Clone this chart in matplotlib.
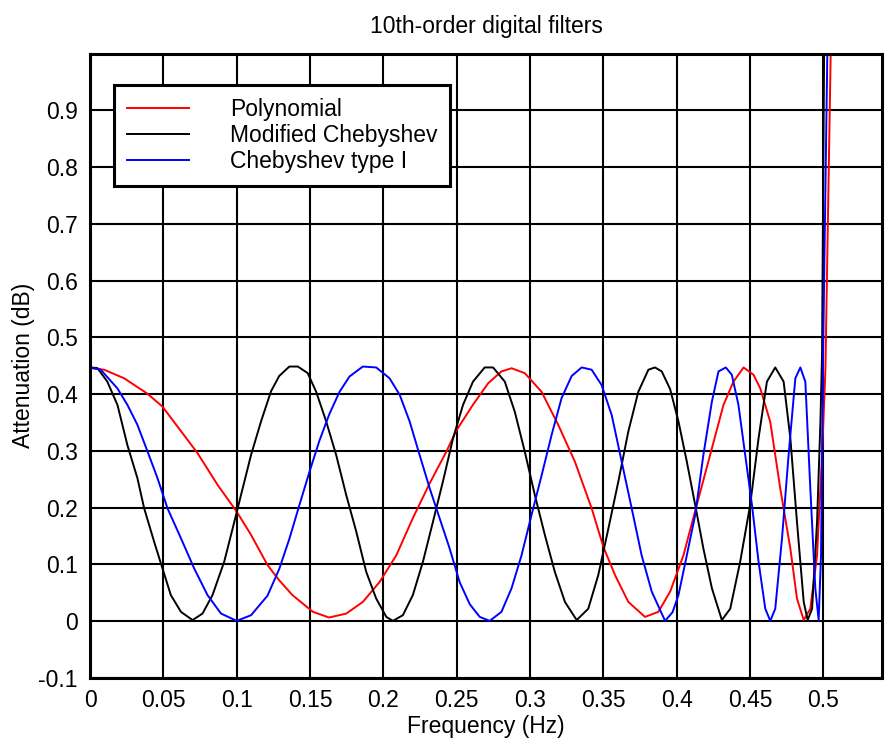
import matplotlib
matplotlib.use("Agg")
import matplotlib.pyplot as plt

plt.rcParams['font.family'] = ['Liberation Sans', 'DejaVu Sans']

# Polynomial (red) - frequency (Hz) / attenuation (dB)
poly_f = [0.0, 0.0096, 0.0232, 0.039, 0.0494, 0.064, 0.0733, 0.087, 0.1, 0.1098,
          0.121, 0.129, 0.138, 0.152, 0.163, 0.1747, 0.186, 0.1974, 0.2088, 0.220,
          0.2316, 0.243, 0.2498, 0.261, 0.2714, 0.2805, 0.2874, 0.2964, 0.3079, 0.3192,
          0.3306, 0.342, 0.35, 0.358, 0.367, 0.3784, 0.3875, 0.3955, 0.4046, 0.4137,
          0.4228, 0.4319, 0.4387, 0.4456, 0.4524, 0.457, 0.4638, 0.4706, 0.4775, 0.482,
          0.4866, 0.4911, 0.4957, 0.4991, 0.5014, 0.505]
poly_db = [0.446, 0.443, 0.428, 0.401, 0.378, 0.328, 0.296, 0.240, 0.193, 0.152,
           0.099, 0.072, 0.046, 0.0165, 0.0065, 0.0135, 0.034, 0.069, 0.116, 0.181,
           0.243, 0.299, 0.336, 0.381, 0.419, 0.440, 0.4456, 0.437, 0.404, 0.346,
           0.281, 0.199, 0.131, 0.081, 0.034, 0.0076, 0.0165, 0.052, 0.116, 0.205,
           0.293, 0.381, 0.422, 0.447, 0.434, 0.41, 0.351, 0.234, 0.128, 0.040,
           0.002, 0.022, 0.116, 0.293, 0.443, 1.0]

# Modified Chebyshev (black)
mcheb_f = [0.0, 0.005, 0.0118, 0.0187, 0.0255, 0.0323, 0.0369, 0.0437, 0.0494, 0.0551,
           0.062, 0.0699, 0.0767, 0.0835, 0.0915, 0.0972, 0.1029, 0.1098, 0.1166, 0.1234,
           0.129, 0.1359, 0.1417, 0.1484, 0.1542, 0.161, 0.1678, 0.1747, 0.1815, 0.1883,
           0.1951, 0.202, 0.2065, 0.2133, 0.2201, 0.227, 0.2338, 0.2406, 0.2475, 0.2543,
           0.2611, 0.2691, 0.2748, 0.2828, 0.2896, 0.2964, 0.3033, 0.3101, 0.3169, 0.3238,
           0.3318, 0.3397, 0.3465, 0.3534, 0.3602, 0.367, 0.3738, 0.3807, 0.3852, 0.3898,
           0.3955, 0.4012, 0.4069, 0.4126, 0.4182, 0.424, 0.4308, 0.4365, 0.4433, 0.4501,
           0.4558, 0.4615, 0.4672, 0.4729, 0.4775, 0.482, 0.4866, 0.4893, 0.4923, 0.4957,
           0.498, 0.4991, 0.5005]
mcheb_db = [0.447, 0.446, 0.422, 0.381, 0.310, 0.252, 0.199, 0.140, 0.093, 0.046,
            0.0165, 0.002, 0.0135, 0.046, 0.105, 0.163, 0.222, 0.293, 0.352, 0.405,
            0.432, 0.4486, 0.4486, 0.437, 0.404, 0.352, 0.293, 0.222, 0.158, 0.087,
            0.040, 0.0076, 0.0006, 0.0106, 0.046, 0.105, 0.175, 0.246, 0.322, 0.381,
            0.422, 0.447, 0.447, 0.422, 0.369, 0.299, 0.222, 0.152, 0.087, 0.034,
            0.002, 0.022, 0.081, 0.163, 0.246, 0.334, 0.404, 0.443, 0.447, 0.440,
            0.409, 0.352, 0.281, 0.205, 0.128, 0.058, 0.002, 0.022, 0.105, 0.205,
            0.322, 0.422, 0.447, 0.422, 0.322, 0.175, 0.034, 0.002, 0.022, 0.175,
            0.352, 0.469, 1.0]

# Chebyshev type I (blue)
cheb_f = [0.0, 0.0073, 0.0187, 0.0255, 0.0323, 0.0392, 0.046, 0.0528, 0.062, 0.071,
          0.0801, 0.0893, 0.1, 0.1098, 0.121, 0.129, 0.1359, 0.1428, 0.1496, 0.1564,
          0.1632, 0.1701, 0.1769, 0.186, 0.1951, 0.2042, 0.2111, 0.2179, 0.2247, 0.2316,
          0.2384, 0.2452, 0.252, 0.2589, 0.2657, 0.2725, 0.2805, 0.2874, 0.2942, 0.301,
          0.3079, 0.3147, 0.3215, 0.3284, 0.3352, 0.342, 0.3488, 0.3557, 0.3625, 0.3693,
          0.3761, 0.383, 0.3921, 0.3972, 0.4012, 0.4069, 0.4126, 0.4182, 0.424, 0.4285,
          0.4335, 0.4376, 0.4421, 0.4467, 0.4513, 0.4558, 0.4604, 0.4638, 0.4672, 0.4718,
          0.4763, 0.4809, 0.4843, 0.4877, 0.4911, 0.4945, 0.4968, 0.4984, 0.4998, 0.5027]
cheb_db = [0.447, 0.443, 0.41, 0.381, 0.346, 0.299, 0.252, 0.199, 0.146, 0.093,
           0.046, 0.0135, 0.0006, 0.0106, 0.045, 0.092, 0.145, 0.205, 0.263, 0.318,
           0.365, 0.404, 0.431, 0.4486, 0.447, 0.428, 0.399, 0.352, 0.293, 0.234,
           0.181, 0.128, 0.069, 0.030, 0.0076, 0.0006, 0.0165, 0.058, 0.116, 0.187,
           0.257, 0.328, 0.393, 0.432, 0.447, 0.443, 0.416, 0.363, 0.281, 0.199,
           0.116, 0.052, 0.0006, 0.016, 0.046, 0.116, 0.187, 0.293, 0.387, 0.440,
           0.447, 0.434, 0.381, 0.293, 0.205, 0.105, 0.022, 0.0006, 0.022, 0.146,
           0.293, 0.428, 0.447, 0.422, 0.234, 0.058, 0.002, 0.116, 0.469, 1.0]

x_ticks = [0, 0.05, 0.1, 0.15, 0.2, 0.25, 0.3, 0.35, 0.4, 0.45, 0.5]
x_labels = ['0', '0.05', '0.1', '0.15', '0.2', '0.25', '0.3', '0.35', '0.4', '0.45', '0.5']
y_ticks = [-0.1, 0, 0.1, 0.2, 0.3, 0.4, 0.5, 0.6, 0.7, 0.8, 0.9, 1.0]
y_labels = ['-0.1', '0', '0.1', '0.2', '0.3', '0.4', '0.5', '0.6', '0.7', '0.8', '0.9', '']

fs = 16.5

fig = plt.figure(figsize=(8.87, 7.4), dpi=100)
ax = fig.add_axes([0.1015, 0.0838, 0.8929, 0.8439])

ax.plot(poly_f, poly_db, color='#ff0000', lw=1.4, label='Polynomial')
ax.plot(mcheb_f, mcheb_db, color='black', lw=1.4, label='Modified Chebyshev')
ax.plot(cheb_f, cheb_db, color='#0000ff', lw=1.4, label='Chebyshev type I')

ax.set_xlim(0, 0.54)
ax.set_ylim(-0.1, 1.0)
ax.set_xticks(x_ticks)
ax.set_xticklabels(x_labels)
ax.set_yticks(y_ticks)
ax.set_yticklabels(y_labels)
ax.tick_params(length=0, labelsize=fs)
ax.tick_params(axis='x', pad=8)
ax.tick_params(axis='y', pad=9)
ax.grid(True, color='black', lw=1.5)
for s in ax.spines.values():
    s.set_linewidth(2.2)

ax.set_title('10th-order digital filters', fontsize=fs, pad=15)
ax.set_xlabel('Frequency (Hz)', fontsize=fs)
ax.set_ylabel('Attenuation (dB)', fontsize=fs)
ax.xaxis.set_label_coords(0.5, -0.06)
ax.yaxis.set_label_coords(-0.07, 0.5)

leg = ax.legend(loc='upper left', bbox_to_anchor=(0.0303, 0.9496), borderaxespad=0,
                fontsize=fs, fancybox=False, framealpha=1, edgecolor='black',
                handlelength=2.7, handletextpad=1.8, borderpad=0.55, labelspacing=0.15)
leg.get_frame().set_linewidth(2.2)

fig.savefig('out.png', dpi=100)
